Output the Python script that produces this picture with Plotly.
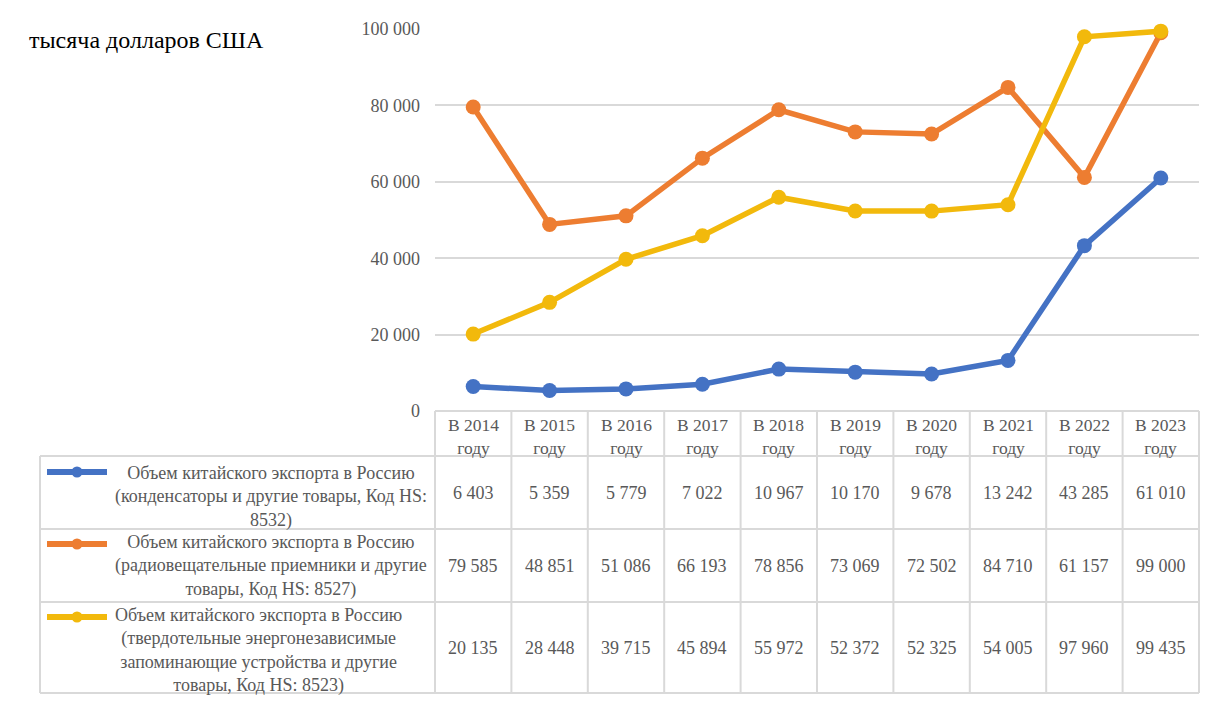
import plotly.graph_objects as go

categories = ["В 2014<br>году", "В 2015<br>году", "В 2016<br>году", "В 2017<br>году", "В 2018<br>году",
              "В 2019<br>году", "В 2020<br>году", "В 2021<br>году", "В 2022<br>году", "В 2023<br>году"]
series_names = [
    "Объем китайского экспорта в Россию<br>(конденсаторы и другие товары, Код HS:<br>8532)",
    "Объем китайского экспорта в Россию<br>(радиовещательные приемники и другие<br>товары, Код HS: 8527)",
    "Объем китайского экспорта в Россию<br>(твердотельные энергонезависимые<br>запоминающие устройства и другие<br>товары, Код HS: 8523)",
]
s8532 = [6403, 5359, 5779, 7022, 10967, 10170, 9678, 13242, 43285, 61010]
s8527 = [79585, 48851, 51086, 66193, 78856, 73069, 72502, 84710, 61157, 99000]
s8523 = [20135, 28448, 39715, 45894, 55972, 52372, 52325, 54005, 97960, 99435]
series_values = [s8532, s8527, s8523]
colors = ["#4472C4", "#ED7D31", "#F2B90C"]
y_ticks = [0, 20000, 40000, 60000, 80000, 100000]

W, H = 1222, 703
FONT = "Liberation Serif, Times New Roman, serif"
TXT = "#595959"
GRID = "#D9D9D9"

def px(x):
    return x / W

def py(y):
    return 1 - y / H

x_left, x_right = 435, 1199
y_top, y_zero = 29, 411
row_edges = [411, 456, 529, 602, 693]
legend_left = 40

fig = go.Figure()
xi = list(range(len(categories)))
for name, vals, c in zip(series_names, series_values, colors):
    fig.add_trace(go.Scatter(x=xi, y=vals, mode="lines+markers", name=name,
                             line=dict(color=c, width=5.5),
                             marker=dict(color=c, size=15),
                             cliponaxis=False, showlegend=False))

shapes = []
ann = []
ncol = len(categories)
colw = (x_right - x_left) / ncol
col_edges = [x_left + i * colw for i in range(ncol + 1)]

line_style = dict(color=GRID, width=2)
shapes.append(dict(type="line", xref="paper", yref="paper", x0=px(x_left), x1=px(x_right),
                   y0=py(row_edges[0]), y1=py(row_edges[0]), line=line_style))
for ye in row_edges[1:]:
    shapes.append(dict(type="line", xref="paper", yref="paper", x0=px(legend_left), x1=px(x_right),
                       y0=py(ye), y1=py(ye), line=line_style))
for xe in col_edges:
    shapes.append(dict(type="line", xref="paper", yref="paper", x0=px(xe), x1=px(xe),
                       y0=py(row_edges[0]), y1=py(row_edges[-1]), line=line_style))
shapes.append(dict(type="line", xref="paper", yref="paper", x0=px(legend_left), x1=px(legend_left),
                   y0=py(row_edges[1]), y1=py(row_edges[-1]), line=line_style))

for i, cat in enumerate(categories):
    cx = (col_edges[i] + col_edges[i + 1]) / 2
    ann.append(dict(x=px(cx), y=py(436), xref="paper", yref="paper",
                    text=cat, showarrow=False, xanchor="center", yanchor="middle",
                    font=dict(family=FONT, size=17.5, color=TXT)))

key_y_offsets = [16, 15, 15]
label_cx = [271, 271, 258]
label_cy = [497, 566, 650]
for r, (name, vals, c) in enumerate(zip(series_names, series_values, colors)):
    y0r, y1r = row_edges[r + 1], row_edges[r + 2]
    cy = (y0r + y1r) / 2
    for i, v in enumerate(vals):
        cx = (col_edges[i] + col_edges[i + 1]) / 2
        ann.append(dict(x=px(cx), y=py(cy), xref="paper", yref="paper",
                        text=f"{v:,}".replace(",", " "), showarrow=False,
                        xanchor="center", yanchor="middle",
                        font=dict(family=FONT, size=18, color=TXT)))
    ann.append(dict(x=px(label_cx[r]), y=py(label_cy[r]), xref="paper", yref="paper",
                    text=name, showarrow=False, xanchor="center", yanchor="middle", align="center",
                    font=dict(family=FONT, size=18, color=TXT)))
    ky = y0r + key_y_offsets[r]
    shapes.append(dict(type="line", xref="paper", yref="paper", x0=px(47), x1=px(107),
                       y0=py(ky), y1=py(ky), line=dict(color=c, width=6)))
    shapes.append(dict(type="circle", xref="paper", yref="paper", x0=px(71.5), x1=px(82.5),
                       y0=py(ky + 5.5), y1=py(ky - 5.5), fillcolor=c, line=dict(color=c, width=0)))

ann.append(dict(x=px(27), y=py(40), xref="paper", yref="paper", text="тысяча долларов США",
                showarrow=False, xanchor="left", yanchor="middle",
                font=dict(family=FONT, size=24, color="#000000")))

fig.update_layout(
    width=W, height=H, margin=dict(l=0, r=0, t=0, b=0, autoexpand=False),
    paper_bgcolor="white", plot_bgcolor="white",
    font=dict(family=FONT),
    separators=", ",
    shapes=shapes, annotations=ann,
    xaxis=dict(domain=[px(x_left), px(x_right)], range=[-0.5, ncol - 0.5], automargin=False,
               showgrid=False, showticklabels=False, zeroline=False, showline=False, fixedrange=True),
    yaxis=dict(domain=[py(y_zero), py(y_top)], range=[0, 100000], tickvals=y_ticks, automargin=False,
               tickformat=",d", showgrid=True, gridcolor=GRID, gridwidth=1.5, zeroline=False,
               showline=False, ticklabelstandoff=14,
               tickfont=dict(family=FONT, size=18, color=TXT), fixedrange=True),
)

fig.write_html("out.html", config={"displayModeBar": False},
               post_script="document.body.style.margin='0';document.body.style.overflow='hidden';")
